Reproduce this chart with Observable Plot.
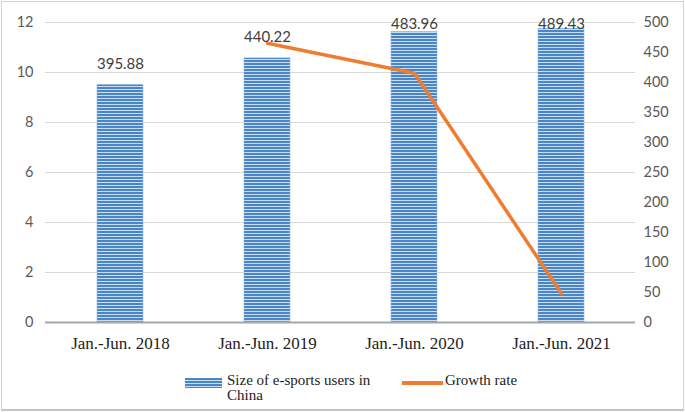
<!DOCTYPE html>
<html><head><meta charset="utf-8">
<script src="https://cdn.jsdelivr.net/npm/d3@7"></script>
<script src="https://cdn.jsdelivr.net/npm/@observablehq/plot@0.6"></script>
<style>
body{margin:0;background:#fff}
#frame{position:relative;width:685px;height:412px;overflow:hidden;background:#fff}
#border{position:absolute;left:1px;top:1px;right:1px;bottom:1px;border:1.5px solid #d2d2d2;border-bottom:2.5px solid #c4c4c4;pointer-events:none}
#chart{position:absolute;left:0;top:0}
.lg{position:absolute;font-family:"Liberation Serif","Times New Roman",serif;font-size:15px;line-height:15px;color:#222}
#sw1{position:absolute;left:185px;top:378px;width:37px;height:10px;background:repeating-linear-gradient(to bottom,#4a86c6 0px,#4a86c6 2px,#c9ddf1 2px,#c9ddf1 3px)}
#sw2{position:absolute;left:402px;top:381px;width:41px;height:4px;background:#ed7d31}
</style></head><body>
<div id="frame">
<div id="chart"></div>
<div id="sw1"></div>
<div class="lg" style="left:227px;top:373px">Size of e-sports users in<br>China</div>
<div id="sw2"></div>
<div class="lg" style="left:445px;top:373px">Growth rate</div>
<div id="border"></div>
</div>
<script>
const periods = ["Jan.-Jun. 2018", "Jan.-Jun. 2019", "Jan.-Jun. 2020", "Jan.-Jun. 2021"];
const users = [395.88, 440.22, 483.96, 489.43];
const growthPeriods = ["Jan.-Jun. 2019", "Jan.-Jun. 2020", "Jan.-Jun. 2021"];
const growthRates = [11.17, 9.97, 1.16];
const leftTicks = [0, 2, 4, 6, 8, 10, 12];
const rightTicks = [0, 50, 100, 150, 200, 250, 300, 350, 400, 450, 500];
const leftMax = 12, rightMax = 500;
const k = rightMax / leftMax;

const barData = periods.map((p, i) => ({period: p, users: users[i], idx: i}));
const lineData = growthPeriods.map((p, i) => ({period: p, rate: growthRates[i]}));

const svg = Plot.plot({
  width: 685,
  height: 360,
  marginLeft: 45,
  marginRight: 50,
  marginTop: 22,
  marginBottom: 38,
  style: {fontFamily: "Lato, sans-serif", background: "transparent", overflow: "visible"},
  x: {domain: periods, paddingInner: 0.69, paddingOuter: 0.345, label: null},
  y: {domain: [0, rightMax], label: null},
  marks: [
    Plot.gridY(leftTicks.filter(t => t > 0).map(t => t * k), {stroke: "#d9d9d9", strokeOpacity: 1, strokeWidth: 1}),
    Plot.barY(barData, {x: "period", y: "users", fill: "url(#stripes)", stroke: "#8fb8e2", strokeWidth: 0.6}),
    Plot.ruleY([0], {stroke: "#a6a6a6", strokeWidth: 2}),
    Plot.line(lineData, {x: "period", y: d => d.rate * k, stroke: "#ed7d31", strokeWidth: 3.5, strokeLinejoin: "round"}),
    Plot.text(barData.filter(d => d.idx < 2), {x: "period", y: "users", text: d => d.users.toFixed(2), dy: -21, fontSize: 15, fill: "#404040"}),
    Plot.text(barData.filter(d => d.idx >= 2), {x: "period", frameAnchor: "top", text: d => d.users.toFixed(2), dy: -4, fontSize: 15, fill: "#404040"}),
    Plot.axisY({anchor: "left", ticks: leftTicks.map(t => t * k), tickFormat: d => Math.round(d / k), tickSize: 0, tickPadding: 12, fontSize: 14.5, fill: "#595959", label: null}),
    Plot.axisY({anchor: "right", ticks: rightTicks, tickSize: 0, tickPadding: 8, fontSize: 14.5, fill: "#595959", label: null}),
    Plot.axisX({tickSize: 0, tickPadding: 14, fontSize: 17, fontFamily: "Liberation Serif, Times New Roman, serif", fill: "#222", label: null})
  ]
});

const defs = d3.select(svg).insert("defs", ":first-child");
const pat = defs.append("pattern").attr("id", "stripes").attr("patternUnits", "userSpaceOnUse").attr("width", 6).attr("height", 3);
pat.append("rect").attr("width", 6).attr("height", 3).attr("fill", "#4a86c6");
pat.append("rect").attr("y", 2).attr("width", 6).attr("height", 1).attr("fill", "#c9ddf1");

document.getElementById("chart").appendChild(svg);
</script>
</body></html>
